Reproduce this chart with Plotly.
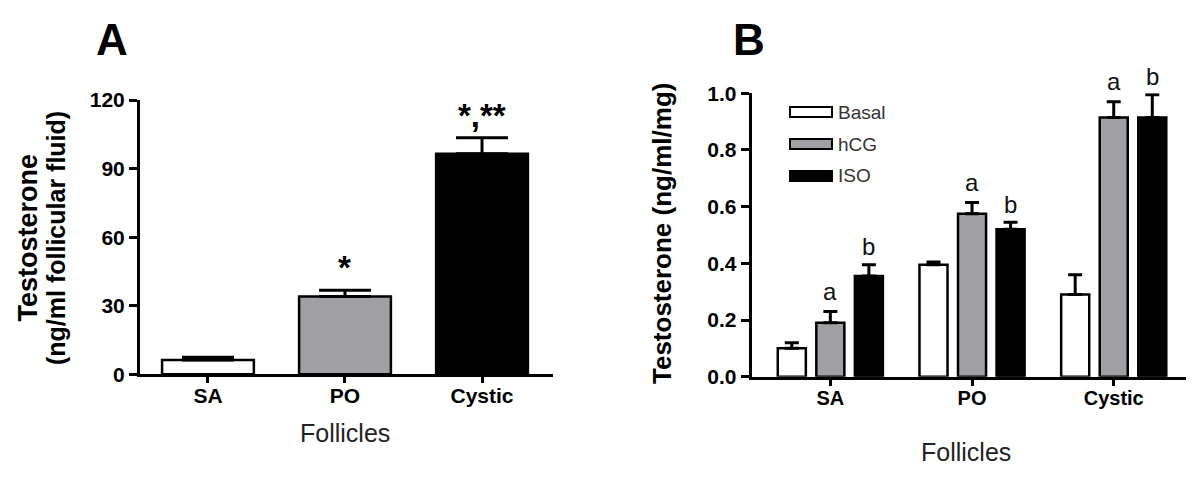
import plotly.graph_objects as go

# ---------------- data ----------------
categories = ["SA", "PO", "Cystic"]

# Panel A: testosterone in follicular fluid (ng/ml)
a_mean = [6.3, 34.0, 96.5]
a_err = [1.2, 2.8, 7.0]
a_marks = ["", "*", "*,**"]
a_colors = ["#ffffff", "#a0a0a4", "#000000"]

# Panel B: testosterone (ng/ml/mg) by treatment
series_names = ["Basal", "hCG", "ISO"]
b_basal = [0.10, 0.395, 0.29]
b_basal_err = [0.02, 0.01, 0.07]
b_hcg = [0.19, 0.575, 0.915]
b_hcg_err = [0.04, 0.04, 0.055]
b_iso = [0.355, 0.52, 0.915]
b_iso_err = [0.04, 0.025, 0.08]
b_hcg_marks = ["a", "a", "a"]
b_iso_marks = ["b", "b", "b"]
b_colors = ["#ffffff", "#a0a0a4", "#000000"]

a_yticks = [0, 30, 60, 90, 120]
b_yticks = [0.0, 0.2, 0.4, 0.6, 0.8, 1.0]
b_yticklabels = ["0.0", "0.2", "0.4", "0.6", "0.8", "1.0"]

# ---------------- layout helpers ----------------
W, H = 1200, 477
OFF = 8  # page body margin offset
def px(x):
    return (x - OFF) / W
def py(y):
    return 1 - (y - OFF) / H

FONT = "Liberation Sans, Arial, sans-serif"
pos = list(range(len(categories)))

fig = go.Figure()

# Panel A bars
fig.add_trace(go.Bar(
    x=pos, y=a_mean, width=0.67,
    marker=dict(color=a_colors, line=dict(color="black", width=2.5)),
    error_y=dict(type="data", array=a_err, arrayminus=[0] * len(a_err), symmetric=False,
                 color="black", thickness=3, width=26),
    xaxis="x", yaxis="y", showlegend=False, hoverinfo="skip"))

# Panel B bars
b_vals = [b_basal, b_hcg, b_iso]
b_errs = [b_basal_err, b_hcg_err, b_iso_err]
slot = 0.272
bw = 0.198
for k in range(3):
    fig.add_trace(go.Bar(
        x=pos, y=b_vals[k], width=bw, offset=(k - 1) * slot - bw / 2,
        name=series_names[k],
        marker=dict(color=b_colors[k], line=dict(color="black", width=2.5)),
        error_y=dict(type="data", array=b_errs[k], arrayminus=[0] * 3, symmetric=False,
                     color="black", thickness=3, width=7),
        xaxis="x2", yaxis="y2", showlegend=False, hoverinfo="skip"))

annotations = []
def note(x, y, text, size, bold=False, color="black", xref="paper", yref="paper",
         xanchor="center", yanchor="middle", angle=0, yshift=0):
    f = dict(family=FONT, size=size, color=color)
    if bold:
        f["weight"] = "bold"
    annotations.append(dict(x=x, y=y, xref=xref, yref=yref, text=text, showarrow=False,
                            xanchor=xanchor, yanchor=yanchor, textangle=angle, yshift=yshift,
                            font=f))

# Panel A significance marks
for i, m in enumerate(a_marks):
    if m:
        note(pos[i], a_mean[i] + a_err[i], m, 33, bold=True, xref="x", yref="y",
             yanchor="bottom", yshift=2)
# Panel B letters
for i in range(3):
    note(pos[i], b_hcg[i] + b_hcg_err[i], b_hcg_marks[i], 24, color="#111",
         xref="x2", yref="y2", yshift=20)
    note(pos[i] + slot, b_iso[i] + b_iso_err[i], b_iso_marks[i], 24, color="#111",
         xref="x2", yref="y2", yshift=18)

# Panel letters
note(px(112), py(39), "A", 44, bold=True)
note(px(749), py(39), "B", 44, bold=True)

# Y titles
note(px(27.5), py(238), "Testosterone", 27, bold=True, angle=-90)
note(px(56), py(238), "(ng/ml follicular fluid)", 25, bold=True, angle=-90)
note(px(662), py(234), "Testosterone (ng/ml/mg)", 26, bold=True, angle=-90)
# X titles
note(px(345), py(433), "Follicles", 25, color="#222")
note(px(966), py(452), "Follicles", 25, color="#222")

# Legend (panel B) drawn manually
shapes = []
leg_y = [112, 144, 176]
for k in range(3):
    shapes.append(dict(type="rect", xref="paper", yref="paper",
                       x0=px(790), x1=px(832), y0=py(leg_y[k] + 5), y1=py(leg_y[k] - 5),
                       fillcolor=b_colors[k], line=dict(color="black", width=2)))
    note(px(836), py(leg_y[k]), series_names[k], 19, color="#333", xanchor="left")

axis_common = dict(showgrid=False, zeroline=False, showline=True, linecolor="black",
                   linewidth=3, ticks="outside", tickcolor="black", tickwidth=2.5,
                   automargin=False)

fig.update_layout(
    width=W, height=H,
    margin=dict(l=0, r=0, t=0, b=0, pad=0),
    paper_bgcolor="white", plot_bgcolor="white",
    barmode="overlay",
    xaxis=dict(domain=[px(140), px(553)], range=[-0.496, 2.518], tickvals=pos, ticktext=categories,
               ticklen=6, anchor="y", ticklabelstandoff=-6,
               tickfont=dict(family=FONT, size=21, color="black", weight="bold"), **axis_common),
    yaxis=dict(domain=[py(374.3), py(100)], range=[0, 120], tickvals=a_yticks, ticklen=8,
               anchor="x",
               tickfont=dict(family=FONT, size=21, color="black", weight="bold"), **axis_common),
    xaxis2=dict(domain=[px(751.7), px(1186)], range=[-0.555, 2.51], tickvals=pos, ticktext=categories,
                ticklen=6, anchor="y2", ticklabelstandoff=-5,
                tickfont=dict(family=FONT, size=20, color="black", weight="bold"), **axis_common),
    yaxis2=dict(domain=[py(376.7), py(93.3)], range=[0, 1.0], tickvals=b_yticks, ticktext=b_yticklabels,
                ticklen=8, anchor="x2",
                tickfont=dict(family=FONT, size=21, color="black", weight="bold"), **axis_common),
    annotations=annotations,
    shapes=shapes,
)

fig.write_html("out.html")
